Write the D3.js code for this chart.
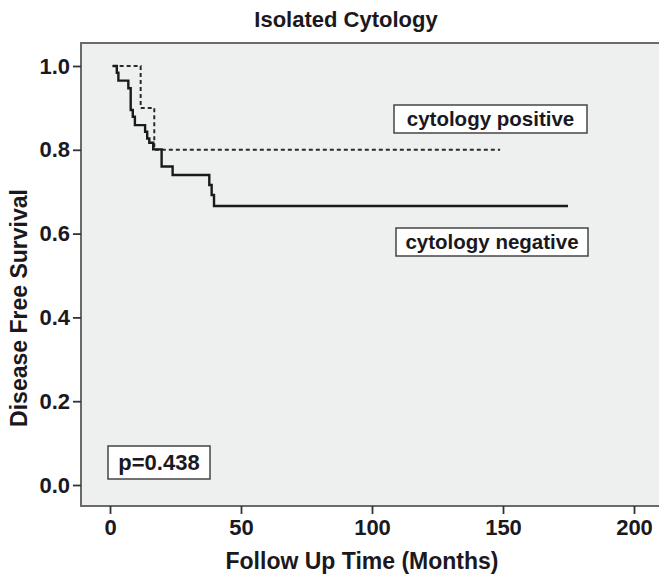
<!DOCTYPE html>
<html>
<head>
<meta charset="utf-8">
<script src="https://cdn.jsdelivr.net/npm/d3@7"></script>
<style>
  body { margin: 0; background: #fff; }
  text { font-family: "Liberation Sans", Arial, sans-serif; font-weight: bold; fill: #1b1820; }
</style>
</head>
<body>
<script>
// Kaplan-Meier steps (months, survival after the step)
var negTimes = [1, 2.6, 3.2, 7.0, 7.9, 8.7, 9.5, 13.4, 14.2, 15.0, 16.5, 19.7, 23.9, 37.9, 38.8, 39.7, 174.8];
var negSurv  = [1.0, 0.984, 0.965, 0.947, 0.895, 0.879, 0.859, 0.843, 0.827, 0.817, 0.801, 0.760, 0.740, 0.716, 0.692, 0.666, 0.666];
var posTimes = [1, 11.7, 16.9, 148.9];
var posSurv  = [1.0, 0.9, 0.8, 0.8];

var xTicks = [0, 50, 100, 150, 200];
var yTicks = [0, 0.2, 0.4, 0.6, 0.8, 1.0];

var W = 659, H = 577;
var frame = { left: 81, top: 43, bottom: 506 };

var svg = d3.select("body").append("svg")
    .attr("width", W)
    .attr("height", H);

var x = d3.scaleLinear().domain([0, 200]).range([110, 634]);
var y = d3.scaleLinear().domain([0, 1]).range([485, 66]);

// plot background + frame
svg.append("rect")
    .attr("x", frame.left)
    .attr("y", frame.top)
    .attr("width", W - frame.left + 10)
    .attr("height", frame.bottom - frame.top)
    .attr("fill", "#eef0f0")
    .attr("stroke", "#6a6a6a")
    .attr("stroke-width", 2);

// axes
var xAxis = svg.append("g")
    .attr("transform", "translate(0," + frame.bottom + ")")
    .call(d3.axisBottom(x).tickValues(xTicks).tickSize(8).tickPadding(5).tickFormat(d3.format("d")));
var yAxis = svg.append("g")
    .attr("transform", "translate(" + frame.left + ",0)")
    .call(d3.axisLeft(y).tickValues(yTicks).tickSize(8).tickPadding(3).tickFormat(d3.format(".1f")));

[xAxis, yAxis].forEach(function (g) {
    g.select(".domain").remove();
    g.selectAll(".tick line").attr("stroke", "#333").attr("stroke-width", 1.8);
    g.selectAll(".tick text")
        .attr("fill", "#1b1820")
        .style("font-size", "22px")
        .style("font-family", '"Liberation Sans", Arial, sans-serif')
        .style("font-weight", "bold");
});

// curves
var line = d3.line()
    .x(function (d) { return x(d[0]); })
    .y(function (d) { return y(d[1]); })
    .curve(d3.curveStepAfter);

svg.append("path")
    .datum(d3.zip(posTimes, posSurv))
    .attr("d", line)
    .attr("fill", "none")
    .attr("stroke", "#2a2a2a")
    .attr("stroke-width", 2)
    .attr("stroke-dasharray", "4,3");

svg.append("path")
    .datum(d3.zip(negTimes, negSurv))
    .attr("d", line)
    .attr("fill", "none")
    .attr("stroke", "#1a1a1a")
    .attr("stroke-width", 2.4);

// labelled boxes
function box(x0, y0, w, h, label, size) {
    svg.append("rect")
        .attr("x", x0).attr("y", y0)
        .attr("width", w).attr("height", h)
        .attr("fill", "#fff")
        .attr("stroke", "#444")
        .attr("stroke-width", 1.5);
    svg.append("text")
        .attr("x", x0 + w / 2)
        .attr("y", y0 + h / 2)
        .attr("dy", "0.36em")
        .attr("text-anchor", "middle")
        .style("font-size", size + "px")
        .text(label);
}
box(394, 105, 193, 28, "cytology positive", 20.5);
box(396, 228, 192, 28, "cytology negative", 20.5);
box(108, 446, 102, 33, "p=0.438", 22);

// titles
svg.append("text")
    .attr("x", 346).attr("y", 27)
    .attr("text-anchor", "middle")
    .style("font-size", "22px")
    .text("Isolated Cytology");

svg.append("text")
    .attr("x", 362).attr("y", 569)
    .attr("text-anchor", "middle")
    .style("font-size", "23px")
    .text("Follow Up Time (Months)");

svg.append("text")
    .attr("transform", "translate(27,308) rotate(-90)")
    .attr("text-anchor", "middle")
    .style("font-size", "23px")
    .text("Disease Free Survival");
</script>
</body>
</html>
